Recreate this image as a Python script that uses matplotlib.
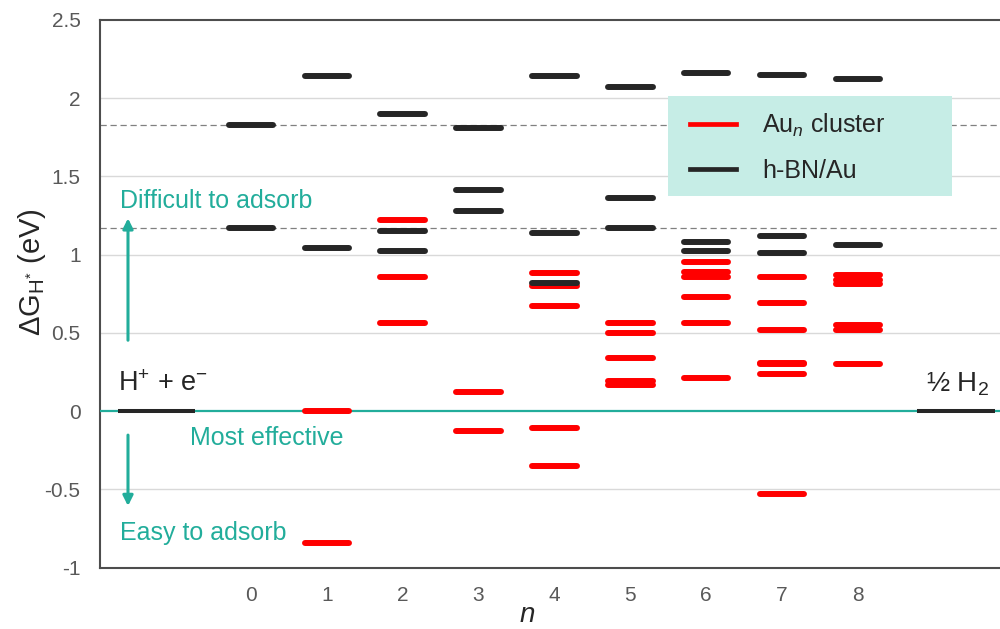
import matplotlib
matplotlib.use("Agg")
import matplotlib.pyplot as plt
from matplotlib.patches import Rectangle
from matplotlib.lines import Line2D

plt.rcParams['font.family'] = ['Liberation Sans', 'DejaVu Sans']
plt.rcParams['mathtext.fontset'] = 'custom'
plt.rcParams['mathtext.rm'] = 'Liberation Sans'
plt.rcParams['mathtext.it'] = 'Liberation Sans:italic'
plt.rcParams['mathtext.bf'] = 'Liberation Sans:bold'

# ---- data -------------------------------------------------------------
n_values = [0, 1, 2, 3, 4, 5, 6, 7, 8]
n_tick_labels = ["0", "1", "2", "3", "4", "5", "6", "7", "8"]

# ΔG_H* of the bare Au_n clusters (eV), one list per n
au_cluster = [
    [],
    [0.00, -0.84],
    [1.22, 0.86, 0.56],
    [0.12, -0.13],
    [0.88, 0.80, 0.67, -0.11, -0.35],
    [0.56, 0.50, 0.34, 0.19, 0.17],
    [0.95, 0.89, 0.86, 0.73, 0.56, 0.21],
    [0.86, 0.69, 0.52, 0.31, 0.30, 0.24, -0.53],
    [0.87, 0.84, 0.81, 0.55, 0.52, 0.30],
]

# ΔG_H* of the h-BN/Au systems (eV), one list per n
hbn_au = [
    [1.83, 1.17],
    [2.14, 1.04],
    [1.90, 1.15, 1.02],
    [1.81, 1.41, 1.28],
    [2.14, 1.14, 0.82],
    [2.07, 1.36, 1.17],
    [2.16, 1.08, 1.02],
    [2.15, 1.12, 1.01],
    [2.12, 1.06],
]

initial_state = 0.0   # H+ + e-
final_state = 0.0     # 1/2 H2

y_ticks = [-1, -0.5, 0, 0.5, 1, 1.5, 2, 2.5]
y_tick_labels = ["-1", "-0.5", "0", "0.5", "1", "1.5", "2", "2.5"]

# ---- style ------------------------------------------------------------
RED = "#FF0000"
DARK = "#262626"
TEAL = "#22AD9B"
GRID = "#D9D9D9"
TICK = "#595959"
SPINE = "#4D4D4D"

fig = plt.figure(figsize=(10, 6.29), dpi=100)
ax = fig.add_axes([0.100, 0.0975, 0.902, 0.871])
ax.set_xlim(-1.99, 9.90)
ax.set_ylim(-1, 2.5)

# grid
for g in [-0.5, 0.5, 1.0, 1.5, 2.0]:
    ax.axhline(g, color=GRID, lw=1.0, zorder=1)

# reference levels of the n = 0 system
for ref in hbn_au[0]:
    ax.axhline(ref, color="#808080", lw=0.9, linestyle=(0, (5, 3)), zorder=2)

# zero line
ax.axhline(0, color=TEAL, lw=1.6, zorder=3)

half = 0.294
for n, vals in zip(n_values, au_cluster):
    for v in vals:
        ax.plot([n - half, n + half], [v, v], color=RED, lw=4.3,
                solid_capstyle="round", zorder=4)
for n, vals in zip(n_values, hbn_au):
    for v in vals:
        ax.plot([n - half, n + half], [v, v], color=DARK, lw=4.3,
                solid_capstyle="round", zorder=5)

# initial and final states
ax.plot([-1.245 - 0.507, -1.245 + 0.507], [initial_state, initial_state],
        color=DARK, lw=2.9, solid_capstyle="butt", zorder=5)
ax.plot([9.30 - 0.514, 9.30 + 0.514], [final_state, final_state],
        color=DARK, lw=2.9, solid_capstyle="butt", zorder=5)
ax.text(-1.753, 0.175, "H$^{+}$ + e$^{-}$", fontsize=19.5, color=DARK,
        ha="left", va="center", zorder=6)
ax.text(8.90, 0.17, "½ H$_2$", fontsize=20, color=DARK,
        ha="left", va="center", zorder=6)

# annotations
ax.text(-1.727, 1.34, "Difficult to adsorb", fontsize=18, color=TEAL,
        ha="left", va="center")
ax.text(-0.804, -0.170, "Most effective", fontsize=18, color=TEAL,
        ha="left", va="center")
ax.text(-1.727, -0.776, "Easy to adsorb", fontsize=18, color=TEAL,
        ha="left", va="center")
arrow = dict(arrowstyle="-|>", color=TEAL, lw=2.2, mutation_scale=15,
             shrinkA=0, shrinkB=0)
ax.annotate("", xy=(-1.621, 1.232), xytext=(-1.621, 0.453), arrowprops=arrow)
ax.annotate("", xy=(-1.621, -0.606), xytext=(-1.621, -0.153), arrowprops=arrow)

# legend
ax.add_patch(Rectangle((0.6297, 0.6787), 0.3149, 0.1826, transform=ax.transAxes,
                       facecolor="#C6EDE6", edgecolor="none", zorder=6))
handles = [Line2D([], [], color=RED, lw=3.4), Line2D([], [], color=DARK, lw=3.4)]
leg = ax.legend(handles, ["Au$_n$ cluster", "h-BN/Au"], loc="upper left",
                bbox_to_anchor=(0.654, 0.832), frameon=False, fontsize=18,
                handlelength=1.84, handletextpad=1.04, labelspacing=0.78,
                borderpad=0, borderaxespad=0)
leg.set_zorder(7)
for t in leg.get_texts():
    t.set_color(DARK)

# axes
ax.set_xticks(n_values)
ax.set_xticklabels(n_tick_labels)
ax.set_yticks(y_ticks)
ax.set_yticklabels(y_tick_labels)
ax.tick_params(axis="both", length=0, labelsize=15, labelcolor=TICK)
ax.tick_params(axis="y", pad=14)
ax.tick_params(axis="x", pad=13)
ax.spines["right"].set_visible(False)
for s in ["left", "bottom", "top"]:
    ax.spines[s].set_color(SPINE)
    ax.spines[s].set_linewidth(1.5)

ax.set_xlabel("$n$", fontsize=20, color=DARK)
ax.xaxis.set_label_coords(0.4734, -0.063)
ax.set_ylabel("ΔG$_{\\mathrm{H}^{*}}$ (eV)", fontsize=21, color=DARK)
ax.yaxis.set_label_coords(-0.058, 0.54)

fig.savefig("out.png", dpi=100)
